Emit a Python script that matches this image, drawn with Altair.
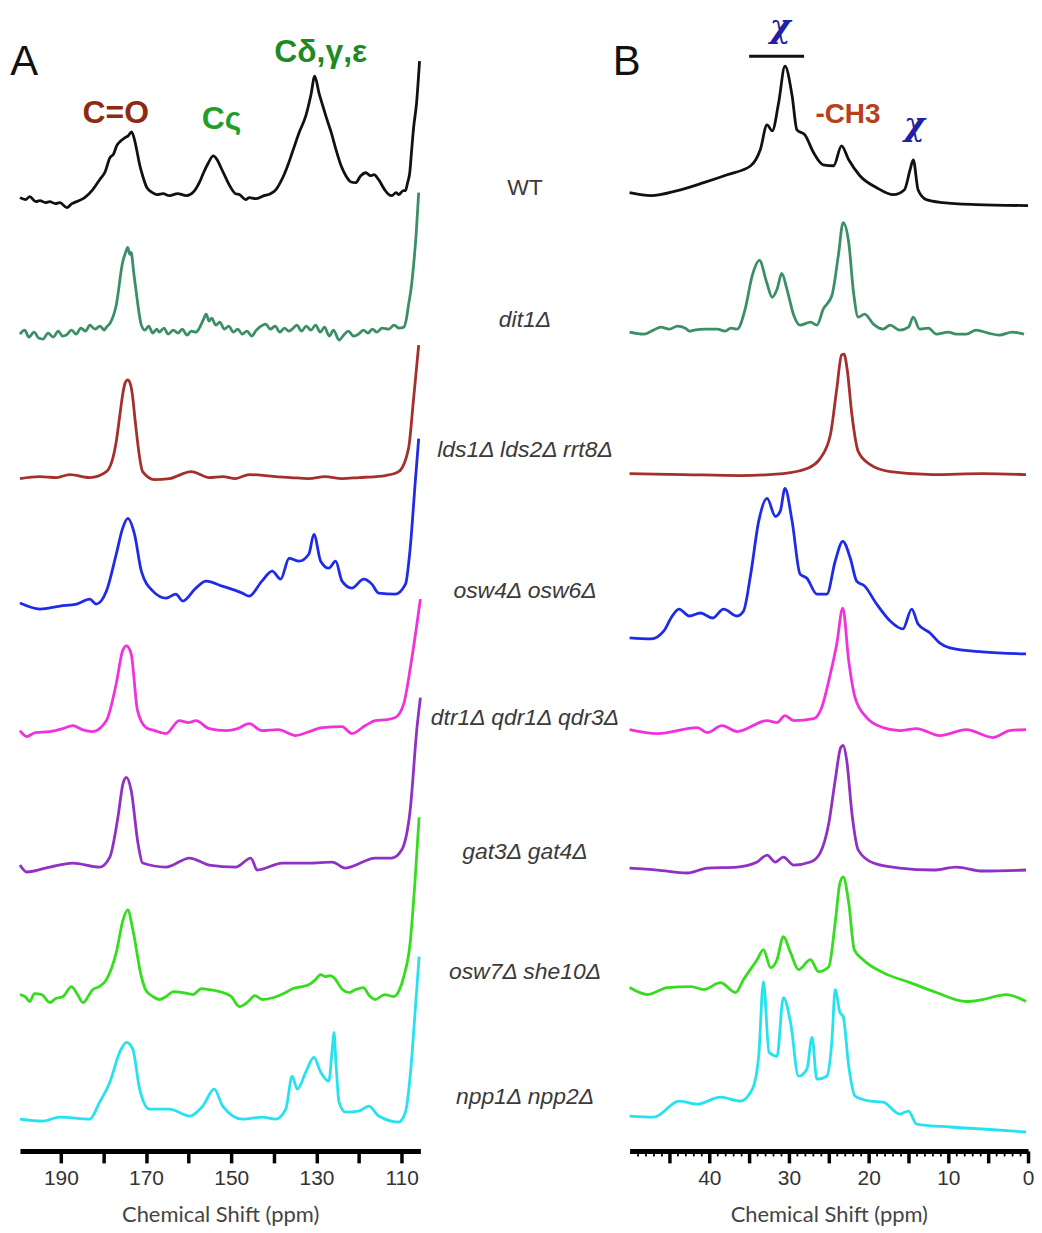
import altair as alt
import pandas as pd

# ---------------- categories / styling lists ----------------
STRAINS = ["WT", "dit1Δ", "lds1Δ lds2Δ rrt8Δ", "osw4Δ osw6Δ",
           "dtr1Δ qdr1Δ qdr3Δ", "gat3Δ gat4Δ", "osw7Δ she10Δ", "npp1Δ npp2Δ"]
COLORS = ["#111111", "#3b8f66", "#a3302c", "#1f2be6",
          "#f032dc", "#9130c4", "#36dc1e", "#25e2ee"]

# stacking offsets of each spectrum (a.u.)
LEFT_OFFSETS = [957, 820, 675, 549, 421, 285, 155, 32]
RIGHT_OFFSETS = [950, 821, 679, 500, 422, 282, 152, 22]

# strain label positions (middle column)
LABEL_POS = [0.5] * 8
LABEL_Y = [967, 834, 704, 562, 435, 300, 180, 54]

# axis ticks
L_TICKS = [110, 120, 130, 140, 150, 160, 170, 180, 190]
R_MAJOR = [0, 5, 10, 15, 20, 25, 30, 35, 40, 45]
R_MINOR = list(range(1, 50))

# annotations
ANN_L_TEXT = ["C=O", "Cς", "Cδ,γ,ε"]
ANN_L_PPM = [177.1, 152.3, 129.0]
ANN_L_Y = [1032, 1026, 1093]
ANN_L_COLOR = ["#8c2a12", "#1f9e2a", "#1d8a24"]
ANN_R_TEXT = ["χ", "-CH3", "χ"]
ANN_R_PPM = [31.1, 22.6, 14.25]
ANN_R_Y = [1118, 1032, 1020]
ANN_R_COLOR = ["#1f1fa8", "#b8401c", "#1f1fa8"]
BAR_PPM = [35.0, 28.1]
BAR_Y = [1099]

# ---------------- panel A (carbonyl / aromatic region) ----------------
L_WT_PPM = [199.6, 198.3, 197.3, 195.9, 194.9, 193.6, 192.6, 191.3, 190.2, 188.6,
            187.4, 186.3, 184.4, 182.5, 180.9, 179.6, 178.5, 177.6, 176.9, 175.9,
            175.0, 174.2, 173.4, 172.7, 172.2, 171.5, 170.8, 169.8, 168.5, 167.4,
            166.0, 164.5, 162.6, 160.5, 158.8, 157.5, 156.4, 155.6, 154.2, 153.3,
            152.4, 151.3, 150.5, 149.0, 148.0, 146.6, 145.8, 144.3, 142.3, 140.8,
            139.5, 138.5, 137.6, 136.5, 135.7, 134.1, 132.5, 131.3, 130.4, 129.4,
            128.5, 127.8, 126.5, 125.4, 124.3, 123.1, 122.0, 120.8, 119.6, 118.4,
            117.3, 116.5, 115.4, 114.0, 113.0, 112.3, 111.3, 110.7, 109.6, 109.1,
            108.6, 108.1, 107.7, 107.2, 106.5, 105.8]
L_WT_INT = [0, -2, 1, -4, -3, -5, -4, -6, -5, -10,
            -6, -4, 0, 8, 18, 26, 40, 44, 52, 57,
            60, 62, 66, 58, 48, 33, 22, 10, 5, 3,
            4, 2, 4, 2, 6, 15, 26, 33, 42, 38,
            30, 20, 13, 4, 3, -2, 0, -1, 2, 4,
            8, 15, 23, 35, 45, 65, 82, 103, 122, 105,
            92, 82, 65, 48, 33, 22, 16, 15, 22, 25,
            22, 23, 18, 8, 3, 2, 5, 3, 7, 7,
            15, 25, 45, 70, 95, 137]

L_DIT_PPM = [199.6, 198.5, 197.5, 196.3, 195.2, 194.2, 193.0, 191.8, 190.6, 189.6,
             188.7, 187.5, 186.4, 185.3, 184.2, 183.2, 182.0, 180.8, 179.8, 179.3,
             178.3, 177.0, 175.5, 174.8, 174.3, 173.8, 173.5, 172.9, 172.3, 171.6,
             171.1, 170.3, 169.4, 168.4, 167.5, 166.9, 165.8, 164.8, 163.6, 162.5,
             161.5, 160.4, 159.4, 158.3, 157.5, 156.6, 155.9, 155.2, 154.6, 153.6,
             152.7, 151.6, 150.6, 149.5, 148.5, 147.4, 146.3, 145.2, 144.1, 143.0,
             141.9, 140.8, 139.7, 138.6, 137.5, 136.5, 135.7, 134.6, 133.5, 132.4,
             131.3, 130.2, 129.1, 128.1, 127.0, 126.0, 124.7, 123.6, 122.5, 121.3,
             120.1, 119.0, 117.9, 116.9, 115.8, 114.6, 113.0, 111.8, 110.6, 109.5,
             108.9, 108.4, 107.8, 107.2, 106.6, 106.0]
L_DIT_INT = [0, 4, -3, 2, -4, -5, 1, -3, 3, -2,
             -1, 4, 0, 6, 3, 9, 5, 8, 4, 7,
             12, 29, 72, 82, 87, 80, 82, 62, 42, 20,
             9, 4, 8, 1, 5, 2, 6, 0, 4, 1,
             5, -1, 3, 2, 6, 14, 20, 13, 16, 9,
             12, 5, 8, 2, 5, 0, 3, -2, 4, 8,
             10, 5, 8, 2, 6, 3, 5, 9, 3, 8,
             4, 9, 2, 7, -2, 4, -6, -1, 3, -2,
             0, 4, 1, 5, 2, 6, 5, 9, 6, 7,
             15, 29, 45, 69, 100, 142]

L_LDS_PPM = [199.6, 195.0, 191.0, 187.9, 183.2, 179.3, 177.0, 176.2, 175.5, 174.9,
             174.3, 173.7, 173.2, 172.6, 172.0, 171.4, 170.8, 168.0, 164.5, 159.4,
             155.2, 152.0, 149.0, 145.8, 142.0, 139.6, 136.0, 131.8, 128.0, 124.0,
             120.0, 116.0, 113.8, 110.7, 108.4, 107.2, 106.0]
L_LDS_INT = [0, 2, 1, 4, 1, 7, 37, 62, 84, 96,
             99, 95, 84, 60, 37, 18, 7, -1, 0, 7,
             1, 2, 0, 4, 3, 2, 1, 0, 2, 0,
             1, 2, 3, 7, 30, 80, 134]

L_OSW4_PPM = [199.6, 194.9, 190.2, 186.3, 183.2, 181.7, 179.3, 177.0, 175.5, 174.3,
              172.7, 171.1, 168.4, 165.3, 163.0, 161.4, 158.3, 155.9, 152.1, 147.4,
              145.8, 142.8, 140.4, 138.4, 136.4, 134.1, 131.8, 130.6, 129.0, 127.1,
              125.5, 124.0, 121.7, 118.9, 117.0, 115.4, 111.5, 109.1, 108.0, 106.8,
              106.0]
L_OSW4_INT = [1, -5, -2, 0, 5, 0, 13, 50, 76, 86,
              70, 33, 13, 6, 10, 3, 16, 23, 18, 11,
              8, 23, 33, 25, 46, 43, 50, 70, 43, 36,
              43, 23, 16, 25, 20, 11, 10, 20, 56, 123,
              166]

L_DTR_PPM = [199.6, 198.0, 196.0, 192.6, 189.5, 187.2, 185.0, 182.5, 179.3, 177.0,
             175.5, 174.6, 173.5, 172.0, 170.0, 168.0, 165.3, 162.2, 160.0, 158.3,
             155.2, 151.2, 148.5, 145.8, 142.8, 139.0, 134.9, 131.0, 128.7, 124.0,
             121.7, 118.5, 116.2, 113.5, 111.5, 109.5, 107.7, 105.6]
L_DTR_INT = [1, -5, -1, 0, 3, 6, 2, 0, 11, 48,
             81, 86, 78, 21, 4, 1, -2, 11, 9, 11,
             3, 1, 3, 8, 1, 2, -4, 1, 4, 5,
             -2, 6, 11, 12, 14, 28, 71, 133]

L_GAT_PPM = [199.6, 198.0, 192.6, 187.2, 180.9, 178.5, 176.6, 175.4, 174.6, 173.5,
             171.9, 170.8, 165.3, 159.8, 155.2, 148.9, 145.4, 143.9, 138.0, 131.8,
             126.3, 123.2, 116.2, 112.3, 110.0, 108.0, 106.4, 105.6]
L_GAT_INT = [2, -5, 0, 4, 0, 10, 50, 84, 90, 77,
             24, 4, 0, 9, 2, 0, 9, -3, 4, 4,
             5, -1, 9, 9, 17, 57, 140, 170]

L_OSW7_PPM = [199.6, 198.4, 197.3, 196.2, 194.5, 192.6, 191.2, 189.5, 187.5, 186.1,
              184.8, 183.6, 182.5, 181.0, 179.3, 177.0, 175.4, 174.3, 173.1, 171.1,
              170.0, 168.4, 166.8, 165.3, 163.5, 161.4, 159.0, 157.0, 155.2, 152.0,
              150.0, 148.1, 146.0, 144.5, 142.7, 140.0, 137.2, 135.5, 133.3, 131.7,
              130.2, 129.0, 127.9, 126.8, 125.9, 123.9, 122.3, 120.8, 119.0, 117.6,
              116.2, 114.0, 111.9, 110.6, 109.5, 108.0, 106.8, 105.9]
L_OSW7_INT = [2, 0, -5, 3, 2, -6, -2, 0, 10, 2,
              -6, 0, 7, 10, 17, 44, 77, 87, 67, 20,
              6, 0, -3, 0, 5, 4, 2, 8, 7, 4,
              0, -10, -5, 1, -3, -1, 4, 8, 10, 12,
              17, 22, 20, 21, 19, 7, 4, 7, 9, 1,
              -3, 2, 0, 6, 20, 54, 120, 180]

L_NPP_PPM = [199.6, 194.2, 190.2, 183.2, 180.9, 178.5, 176.2, 174.6, 173.1, 171.5,
             169.2, 164.5, 159.8, 156.7, 154.0, 152.0, 147.4, 142.7, 139.6, 137.2,
             135.7, 134.5, 132.5, 130.6, 129.0, 127.1, 126.3, 125.9, 125.4, 124.7,
             123.2, 120.1, 117.7, 115.4, 110.7, 109.1, 108.0, 106.8, 105.9]
L_NPP_INT = [0, -2, 2, 0, 17, 37, 67, 77, 70, 30,
             10, 10, 3, 13, 30, 13, 0, 2, 0, 10,
             43, 30, 47, 62, 47, 38, 70, 87, 55, 17,
             7, 8, 13, 3, -3, 7, 43, 110, 163]

# ---------------- panel B (aliphatic region) ----------------
R_WT_PPM = [50.0, 47.3, 44.0, 40.7, 37.75, 34.8, 33.6, 32.75, 32.1, 31.3,
            30.5, 29.6, 29.0, 28.0, 26.9, 25.7, 24.4, 23.4, 22.5, 21.1,
            19.0, 16.9, 15.5, 14.8, 14.4, 13.8, 12.75, 10.7, 6.5, 0.0]
R_WT_INT = [12, 9, 14, 22, 30, 39, 55, 80, 74, 102,
            139, 109, 75, 70, 52, 40, 39, 59, 45, 29,
            17, 10, 15, 35, 45, 15, 5, 2, 0, -1]

R_DIT_PPM = [50.0, 48.2, 47.0, 46.1, 45.0, 44.0, 43.0, 42.5, 41.9, 40.5,
             39.0, 38.0, 37.3, 36.5, 35.5, 34.6, 33.7, 32.8, 32.1, 31.5,
             30.9, 30.25, 29.4, 28.6, 27.3, 26.5, 25.7, 24.6, 23.8, 23.2,
             22.5, 21.9, 21.3, 20.5, 19.4, 18.2, 17.3, 16.1, 15.0, 14.4,
             13.6, 12.5, 11.5, 10.0, 9.0, 7.75, 6.5, 5.0, 3.6, 2.0,
             0.5]
R_DIT_INT = [1, -1, 3, 6, 4, 7, 5, 2, 3, 4,
             4, 2, 5, 4, 24, 58, 73, 51, 36, 44,
             60, 44, 18, 8, 11, 8, 24, 38, 78, 111,
             91, 41, 16, 19, 9, 4, 8, 3, 6, 16,
             4, 5, -1, 1, -1, -1, 3, 0, -2, 1,
             -1]

R_LDS_PPM = [50.0, 43.2, 36.1, 30.7, 27.75, 26.1, 24.8, 24.0, 23.4, 23.1,
             22.7, 22.1, 21.3, 19.8, 17.3, 11.9, 5.7, 0.25]
R_LDS_INT = [1, 0, -1, 1, 6, 16, 40, 86, 120, 121,
             106, 60, 23, 10, 3, 0, 1, 0]

R_OSW4_PPM = [50.0, 47.3, 45.7, 44.8, 43.8, 42.5, 41.1, 39.6, 38.2, 36.5,
              35.7, 34.8, 33.8, 32.75, 31.7, 31.1, 30.5, 29.6, 28.6, 27.75,
              26.5, 25.25, 24.2, 23.25, 22.3, 21.5, 20.5, 19.0, 17.3, 15.7,
              14.6, 13.8, 12.3, 11.1, 9.8, 5.7, 0.25]
R_OSW4_INT = [15, 14, 22, 35, 44, 37, 40, 35, 44, 37,
              42, 79, 132, 155, 137, 142, 165, 132, 79, 75,
              59, 59, 92, 112, 95, 72, 67, 49, 32, 24,
              44, 29, 20, 10, 5, 1, -1]

R_DTR_PPM = [50.0, 46.5, 41.5, 40.25, 38.4, 36.5, 32.75, 31.5, 30.5, 29.4,
             26.9, 25.9, 24.8, 24.0, 23.25, 22.5, 21.7, 20.25, 18.2, 16.1,
             14.0, 11.1, 7.75, 4.4, 2.3, 0.25]
R_DTR_INT = [1, -3, 3, -2, 5, -1, 10, 8, 15, 10,
             12, 23, 57, 87, 123, 70, 33, 13, 3, 0,
             2, -5, 1, -7, 0, 1]

R_GAT_PPM = [50.0, 46.5, 42.75, 40.25, 36.5, 34.0, 32.75, 31.7, 30.7, 29.4,
             27.3, 26.1, 25.0, 24.2, 23.5, 23.2, 22.75, 22.1, 21.3, 19.4,
             16.1, 11.9, 9.0, 5.7, 0.25]
R_GAT_INT = [2, 0, -3, 2, 3, 8, 15, 8, 13, 5,
             8, 17, 47, 90, 123, 125, 110, 57, 20, 7,
             2, 0, 3, -1, 0]

R_OSW7_PPM = [50.0, 47.75, 45.25, 42.3, 40.7, 38.6, 36.7, 35.7, 34.0, 33.2,
              32.3, 31.5, 30.7, 29.8, 28.8, 27.3, 26.3, 25.0, 24.2, 23.6,
              23.2, 22.5, 21.8, 20.7, 18.2, 14.8, 11.5, 7.75, 5.7, 2.75,
              0.25]
R_OSW7_INT = [12, 5, 12, 13, 10, 17, 7, 20, 40, 50,
              32, 40, 63, 47, 30, 40, 28, 33, 77, 117,
              123, 97, 50, 40, 27, 17, 7, -2, 0, 5,
              -2]

R_NPP_PPM = [50.0, 46.9, 43.8, 41.5, 38.6, 36.1, 34.6, 33.8, 33.2, 32.5,
             31.5, 30.7, 29.8, 28.8, 27.75, 27.1, 26.5, 25.25, 24.6, 24.2,
             23.6, 23.2, 22.5, 21.7, 19.8, 18.2, 16.1, 15.0, 14.0, 9.8,
             5.7, 0.25]
R_NPP_INT = [13, 12, 28, 25, 32, 28, 40, 73, 148, 77,
             73, 132, 107, 53, 60, 92, 50, 53, 90, 140,
             117, 113, 63, 33, 28, 27, 15, 18, 5, 2,
             0, -3]


def trace_frame(ppm_lists, int_lists, offsets):
    rows = []
    for name, ppm, inten, off in zip(STRAINS, ppm_lists, int_lists, offsets):
        assert len(ppm) == len(inten), name
        for p, v in zip(ppm, inten):
            rows.append({"strain": name, "ppm": p, "signal": off + v})
    return pd.DataFrame(rows)


left_df = trace_frame(
    [L_WT_PPM, L_DIT_PPM, L_LDS_PPM, L_OSW4_PPM, L_DTR_PPM, L_GAT_PPM, L_OSW7_PPM, L_NPP_PPM],
    [L_WT_INT, L_DIT_INT, L_LDS_INT, L_OSW4_INT, L_DTR_INT, L_GAT_INT, L_OSW7_INT, L_NPP_INT],
    LEFT_OFFSETS)
right_df = trace_frame(
    [R_WT_PPM, R_DIT_PPM, R_LDS_PPM, R_OSW4_PPM, R_DTR_PPM, R_GAT_PPM, R_OSW7_PPM, R_NPP_PPM],
    [R_WT_INT, R_DIT_INT, R_LDS_INT, R_OSW4_INT, R_DTR_INT, R_GAT_INT, R_OSW7_INT, R_NPP_INT],
    RIGHT_OFFSETS)

YSC = alt.Scale(domain=[0, 1142], nice=False, zero=False)
XL = alt.Scale(domain=[105.6, 199.6], reverse=True, nice=False, zero=False)
XR = alt.Scale(domain=[0, 50], reverse=True, nice=False, zero=False)
CSC = alt.Scale(domain=STRAINS, range=COLORS)

AX = dict(orient="bottom", domainColor="black", domainWidth=5, tickColor="black",
          tickWidth=3.5, tickSize=12, labelFont="Liberation Sans", labelFontSize=21,
          labelColor="#333333", labelPadding=5, labelFlush=False,
          title="Chemical Shift (ppm)",
          titleFont="Lato", titleFontSize=22, titleFontWeight="normal",
          titleColor="#444444", titlePadding=16, grid=False)


def lines(df, xs, axis):
    return alt.Chart(df).mark_line(strokeWidth=2.8, interpolate="monotone").encode(
        x=alt.X("ppm:Q", scale=xs, axis=axis),
        y=alt.Y("signal:Q", scale=YSC, axis=None),
        color=alt.Color("strain:N", scale=CSC, legend=None),
    )


def notes(texts, ppms, ys, colors, xs, size, font="Liberation Sans", weight="bold",
          align="center", style="normal"):
    out = []
    for t, p, yv, c in zip(texts, ppms, ys, colors):
        d = pd.DataFrame({"ppm": [p], "signal": [yv], "txt": [t]})
        out.append(alt.Chart(d).mark_text(color=c, fontSize=size, fontWeight=weight,
                                          fontStyle=style, font=font, align=align,
                                          baseline="alphabetic").encode(
            x=alt.X("ppm:Q", scale=xs, axis=None),
            y=alt.Y("signal:Q", scale=YSC, axis=None),
            text="txt:N"))
    return out


left_axis = alt.Axis(values=L_TICKS, labelExpr="datum.value % 20 == 10 ? datum.label : ''", **AX)
left = alt.layer(
    lines(left_df, XL, left_axis),
    *notes(["A"], [201.9], [1080], ["#111111"], XL, 42, weight="normal", align="left"),
    *notes(ANN_L_TEXT, ANN_L_PPM, ANN_L_Y, ANN_L_COLOR, XL, 32),
).resolve_axis(x="independent").properties(width=402, height=1142)

right_axis = alt.Axis(values=R_MAJOR,
                      labelExpr="datum.value % 10 == 0 ? datum.label : ''", **AX)
minor_axis = alt.Axis(orient="bottom", values=R_MINOR, labels=False, domain=False,
                      tickColor="black", tickWidth=1.8, tickSize=5, title=None, grid=False)
bar = alt.Chart(pd.DataFrame({"p1": [BAR_PPM[0]], "p2": [BAR_PPM[1]], "signal": BAR_Y})).mark_rule(
    color="#111111", strokeWidth=3).encode(
    x=alt.X("p1:Q", scale=XR, axis=minor_axis),
    x2="p2:Q",
    y=alt.Y("signal:Q", scale=YSC, axis=None))

right = alt.layer(
    lines(right_df, XR, right_axis),
    bar,
    *notes(["B"], [52.1], [1080], ["#111111"], XR, 42, weight="normal", align="left"),
    *notes(ANN_R_TEXT[:1], ANN_R_PPM[:1], ANN_R_Y[:1], ANN_R_COLOR[:1], XR, 32,
           font="DejaVu Serif", style="italic"),
    *notes(ANN_R_TEXT[1:2], ANN_R_PPM[1:2], ANN_R_Y[1:2], ANN_R_COLOR[1:2], XR, 28),
    *notes(ANN_R_TEXT[2:], ANN_R_PPM[2:], ANN_R_Y[2:], ANN_R_COLOR[2:], XR, 32,
           font="DejaVu Serif", style="italic"),
).resolve_axis(x="independent").properties(width=400, height=1142)

mid_df = pd.DataFrame({"label": STRAINS, "pos": LABEL_POS, "signal": LABEL_Y})
MX = alt.Scale(domain=[0, 1], nice=False, zero=False)
mid_wt = alt.Chart(mid_df.iloc[:1]).mark_text(
    font="Liberation Sans", fontSize=23, color="#3a3a3a", baseline="middle").encode(
    x=alt.X("pos:Q", scale=MX, axis=None),
    y=alt.Y("signal:Q", scale=YSC, axis=None),
    text="label:N")
mid_rest = alt.Chart(mid_df.iloc[1:]).mark_text(
    font="Liberation Sans", fontSize=23, fontStyle="italic", color="#3a3a3a",
    baseline="middle").encode(
    x=alt.X("pos:Q", scale=MX, axis=None),
    y=alt.Y("signal:Q", scale=YSC, axis=None),
    text="label:N")
middle = alt.layer(mid_wt, mid_rest).properties(width=210, height=1142)

chart = alt.hconcat(left, middle, right, spacing=0, bounds="flush").properties(
    padding={"left": 2, "top": 0, "right": 0, "bottom": 0}
).configure_view(stroke=None)

chart.save("out.html", embed_options={"renderer": "svg", "actions": False})
